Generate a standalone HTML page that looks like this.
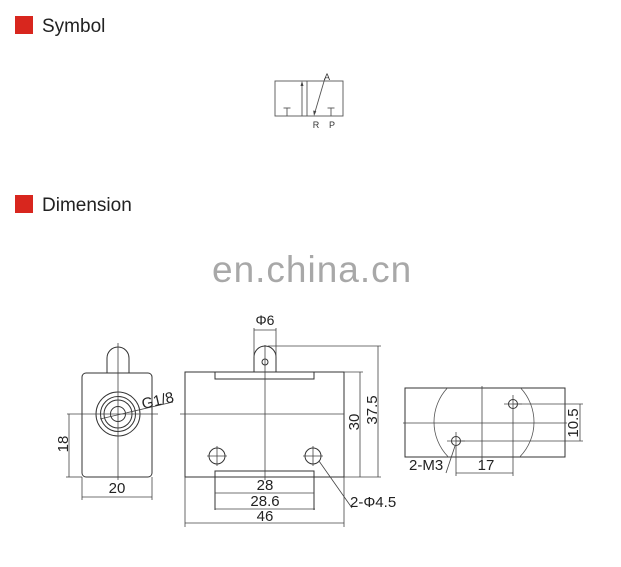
<!DOCTYPE html>
<html><head><meta charset="utf-8"><style>
html,body{margin:0;padding:0;background:#fff;}
svg{display:block;}
text{font-family:"Liberation Sans",Arial,sans-serif;}
</style></head><body>
<svg width="621" height="567" viewBox="0 0 621 567" xmlns="http://www.w3.org/2000/svg">
<defs>
<clipPath id="rc"><rect x="405" y="388" width="160" height="69"/></clipPath>
</defs>
<!-- headers -->
<rect x="15" y="16" width="18" height="18" fill="#d8261e"/>
<text x="42" y="32" font-size="19" fill="#222">Symbol</text>
<rect x="15" y="195" width="18" height="18" fill="#d8261e"/>
<text x="42" y="211" font-size="19" fill="#222">Dimension</text>
<!-- watermark -->
<text x="212" y="282" font-size="37" fill="#a8a8a8" letter-spacing="1">en.china.cn</text>

<!-- symbol -->
<g stroke="#555" stroke-width="0.9" fill="none">
<rect x="275" y="81" width="68" height="35"/>
<line x1="307" y1="81" x2="307" y2="116"/>
<line x1="302" y1="116" x2="302" y2="84"/>
<line x1="287" y1="108" x2="287" y2="116"/>
<line x1="283.5" y1="108" x2="290.5" y2="108"/>
<line x1="331" y1="108" x2="331" y2="116"/>
<line x1="327.5" y1="108" x2="334.5" y2="108"/>
<line x1="325" y1="78" x2="315" y2="112"/>
</g>
<polygon points="302,81 300.5,86 303.5,86" fill="#444"/>
<polygon points="314,116 313.2,110.5 316.3,111.3" fill="#444"/>
<g font-size="9" fill="#333" text-anchor="middle">
<text x="327" y="80">A</text>
<text x="316" y="128">R</text>
<text x="332" y="128">P</text>
</g>

<!-- LEFT VIEW -->
<g stroke="#333" stroke-width="1" fill="none">
<path d="M107,373 V358 A11,11 0 0 1 129,358 V373"/>
<rect x="82" y="373" width="70" height="104" rx="4"/>
<circle cx="118" cy="414" r="22"/>
<circle cx="118" cy="414" r="17.5"/>
<circle cx="118" cy="414" r="14"/>
<circle cx="118" cy="414" r="7.5"/>
</g>
<g stroke="#444" stroke-width="0.8" fill="none">
<line x1="118" y1="343" x2="118" y2="480"/>
<line x1="67" y1="414" x2="158" y2="414"/>
<line x1="100" y1="419" x2="173" y2="402"/>
<line x1="69" y1="414" x2="69" y2="477"/>
<line x1="66" y1="477" x2="82" y2="477"/>
<line x1="82" y1="477" x2="82" y2="500"/>
<line x1="152" y1="477" x2="152" y2="500"/>
<line x1="82" y1="497" x2="152" y2="497"/>
</g>
<g font-size="15" fill="#222">
<text transform="translate(143,409) rotate(-13)">G1/8</text>
<text transform="translate(68,444) rotate(-90)" text-anchor="middle">18</text>
<text x="117" y="493" text-anchor="middle">20</text>
</g>

<!-- MIDDLE VIEW -->
<g stroke="#333" stroke-width="1" fill="none">
<rect x="185" y="372" width="159" height="105"/>
<path d="M254,372 V357 A11,11 0 0 1 276,357 V372"/>
<circle cx="265" cy="362" r="3"/>
<path d="M215,372 V379 H314 V372"/>
<circle cx="217" cy="456" r="8"/>
<circle cx="313" cy="456" r="8"/>
<path d="M215,510 V471 H314 V510"/>
</g>
<g stroke="#444" stroke-width="0.8" fill="none">
<line x1="265" y1="345" x2="265" y2="480"/>
<line x1="180" y1="414" x2="344" y2="414"/>
<line x1="207" y1="456" x2="227" y2="456"/>
<line x1="217" y1="446" x2="217" y2="466"/>
<line x1="303" y1="456" x2="323" y2="456"/>
<line x1="313" y1="446" x2="313" y2="466"/>
<line x1="215" y1="493" x2="314" y2="493"/>
<line x1="215" y1="509" x2="315" y2="509"/>
<line x1="185" y1="477" x2="185" y2="527"/>
<line x1="344" y1="477" x2="344" y2="527"/>
<line x1="185" y1="523" x2="344" y2="523"/>
<line x1="254" y1="328" x2="254" y2="357"/>
<line x1="276" y1="328" x2="276" y2="357"/>
<line x1="254" y1="330" x2="276" y2="330"/>
<line x1="344" y1="372" x2="363" y2="372"/>
<line x1="344" y1="477" x2="381" y2="477"/>
<line x1="360" y1="372" x2="360" y2="477"/>
<line x1="268" y1="346" x2="381" y2="346"/>
<line x1="378" y1="346" x2="378" y2="477"/>
<line x1="319" y1="461" x2="352" y2="508"/>
</g>
<g font-size="15" fill="#222" text-anchor="middle">
<text x="265" y="325" font-size="14">Φ6</text>
<text x="265" y="490">28</text>
<text x="265" y="506">28.6</text>
<text x="265" y="521">46</text>
<text transform="translate(359,422) rotate(-90)">30</text>
<text transform="translate(377,410) rotate(-90)">37.5</text>
</g>
<text x="350" y="507" font-size="15" fill="#222">2-Φ4.5</text>

<!-- RIGHT VIEW -->
<rect x="405" y="388" width="160" height="69" stroke="#333" stroke-width="1" fill="none"/>
<circle cx="484" cy="422" r="50" stroke="#555" stroke-width="0.8" fill="none" clip-path="url(#rc)"/>
<g stroke="#333" stroke-width="1" fill="none">
<circle cx="513" cy="404" r="4.5"/>
<circle cx="456" cy="441" r="4.5"/>
</g>
<g stroke="#444" stroke-width="0.8" fill="none">
<line x1="482" y1="386" x2="482" y2="466"/>
<line x1="403" y1="423" x2="567" y2="423"/>
<line x1="504" y1="404" x2="522" y2="404"/>
<line x1="447" y1="441" x2="465" y2="441"/>
<line x1="513" y1="404" x2="583" y2="404"/>
<line x1="456" y1="441" x2="583" y2="441"/>
<line x1="580" y1="404" x2="580" y2="441"/>
<line x1="513" y1="395" x2="513" y2="476"/>
<line x1="456" y1="432" x2="456" y2="476"/>
<line x1="456" y1="473" x2="513" y2="473"/>
<line x1="446" y1="473" x2="455" y2="446"/>
</g>
<g font-size="15" fill="#222">
<text transform="translate(578,423) rotate(-90)" text-anchor="middle">10.5</text>
<text x="486" y="470" text-anchor="middle">17</text>
<text x="409" y="470">2-M3</text>
</g>
</svg>
</body></html>
